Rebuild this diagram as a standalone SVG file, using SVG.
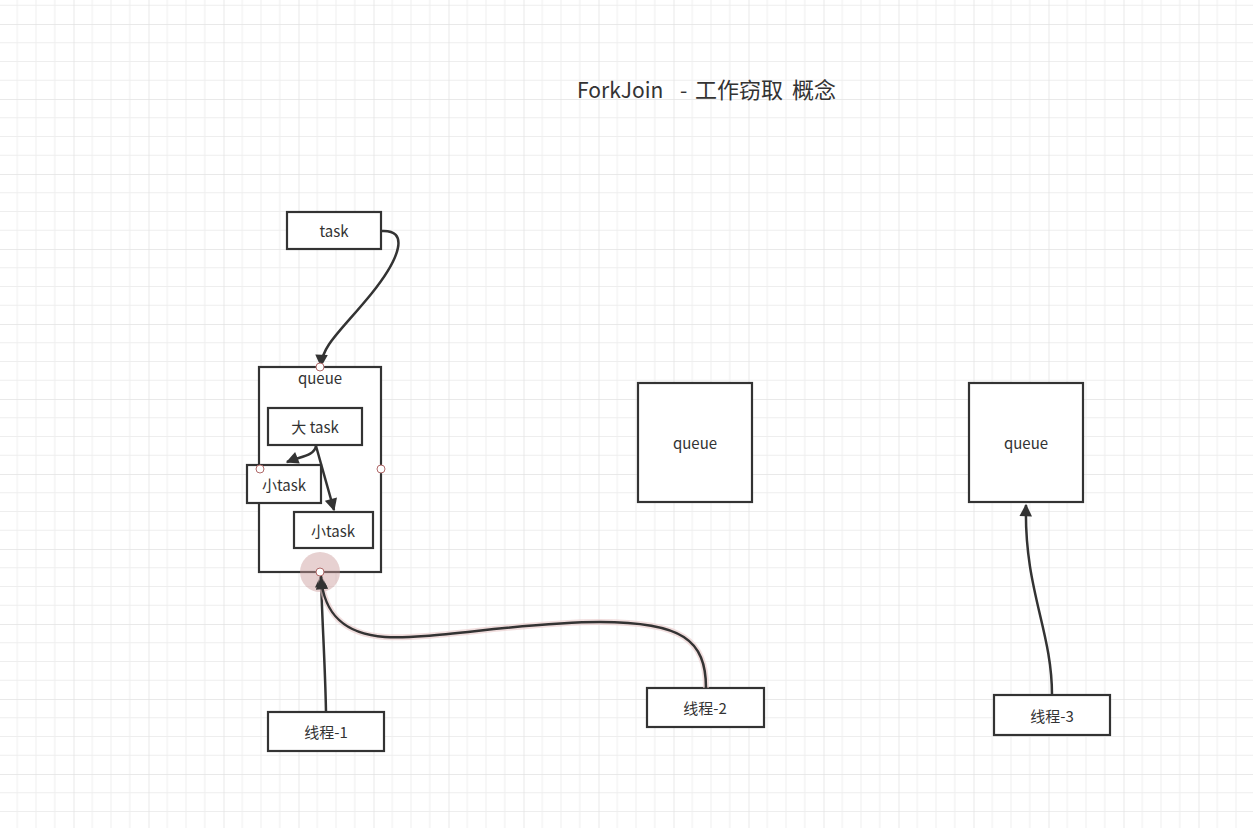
<svg xmlns="http://www.w3.org/2000/svg" width="1253" height="828" viewBox="0 0 1253 828">
  <style>
    .box { fill: #ffffff; stroke: #333333; stroke-width: 2.2; }
    .lbl { font-family: "Noto Sans CJK SC", "Noto Sans", sans-serif; font-size: 15px; fill: #333333; text-anchor: middle; dominant-baseline: central; }
    .title { font-family: "Noto Sans CJK SC", "Noto Sans", sans-serif; font-size: 21px; fill: #333333; }
    .cjk { font-size: 22px; }
    .edge { fill: none; stroke: #333333; stroke-width: 2.5; }
    .port { fill: #ffffff; stroke: #b06a6a; stroke-width: 1; }
  </style>
  <defs>
    <pattern id="grid" patternUnits="userSpaceOnUse" x="-1.5" y="24" width="75" height="75">
      <path d="M18.75 0V75M37.5 0V75M56.25 0V75M0 18.75H75M0 37.5H75M0 56.25H75" stroke="#eeeeee" stroke-width="1" fill="none"/>
      <path d="M0 0V75M0 0H75" stroke="#e2e2e2" stroke-width="1.5" fill="none"/>
    </pattern>
    <marker id="arr" viewBox="0 0 10 10" refX="9" refY="5" markerWidth="5.4" markerHeight="5" orient="auto" markerUnits="strokeWidth">
      <path d="M0 0L10 5L0 10Z" fill="#333333"/>
    </marker>
  </defs>
  <rect width="1253" height="828" fill="#ffffff"/>
  <rect width="1253" height="828" fill="url(#grid)"/>

  <text class="title" y="98"><tspan x="577">ForkJoin</tspan><tspan x="680">-</tspan><tspan class="cjk" x="695">工作窃取</tspan><tspan class="cjk" x="792">概念</tspan></text>

  <g id="task">
    <rect class="box" x="287" y="212" width="94" height="37"/>
    <text class="lbl" x="334" y="230">task</text>
  </g>

  <g id="queue1">
    <rect class="box" x="259" y="367" width="122" height="205"/>
    <text class="lbl" x="320" y="377">queue</text>
  </g>

  <g id="bigtask">
    <rect class="box" x="268" y="408" width="94" height="37"/>
    <text class="lbl" x="315" y="426">大 task</text>
  </g>

  <g id="smalltask1">
    <rect class="box" x="247" y="465" width="74" height="38"/>
    <text class="lbl" x="284" y="484">小task</text>
  </g>

  <g id="smalltask2">
    <rect class="box" x="294" y="512" width="79" height="36"/>
    <text class="lbl" x="333" y="530">小task</text>
  </g>

  <g id="queue2">
    <rect class="box" x="638" y="383" width="114" height="119"/>
    <text class="lbl" x="695" y="442">queue</text>
  </g>

  <g id="queue3">
    <rect class="box" x="969" y="383" width="114" height="119"/>
    <text class="lbl" x="1026" y="442">queue</text>
  </g>

  <g id="thread1">
    <rect class="box" x="268" y="712" width="116" height="39"/>
    <text class="lbl" x="326" y="731">线程-1</text>
  </g>

  <g id="thread2">
    <rect class="box" x="647" y="688" width="117" height="39"/>
    <text class="lbl" x="705" y="707">线程-2</text>
  </g>

  <g id="thread3">
    <rect class="box" x="994" y="695" width="116" height="40"/>
    <text class="lbl" x="1052" y="715">线程-3</text>
  </g>

  <g id="highlight">
    <circle cx="320" cy="572" r="20" fill="#c99a9a" fill-opacity="0.45"/>
  </g>

  <g id="connectors">
    <path class="edge" d="M381 231C410 229 400 258 372 293C342 330 322 345 321 366" marker-end="url(#arr)"/>
    <path class="edge" d="M316 446C314 456 302 456 287 462" marker-end="url(#arr)"/>
    <path class="edge" d="M316 446L334 510" marker-end="url(#arr)"/>
    <path class="edge" d="M326 712C325 660 322 620 321 576" marker-end="url(#arr)"/>
    <path d="M706 688C706 640 682 622 600 622C520 622 430 640 385 637C342 634 324 612 321 578" fill="none" stroke="#e8c8c8" stroke-opacity="0.6" stroke-width="6"/>
    <path class="edge" d="M706 688C706 640 682 622 600 622C520 622 430 640 385 637C342 634 324 612 321 578" marker-end="url(#arr)"/>
    <path class="edge" d="M1052 695C1052 630 1024 590 1026 505" marker-end="url(#arr)"/>
  </g>

  <g id="ports">
    <circle class="port" cx="320" cy="367" r="4"/>
    <circle class="port" cx="260" cy="469" r="4"/>
    <circle class="port" cx="381" cy="469" r="4"/>
    <circle class="port" cx="320" cy="572" r="4"/>
  </g>
</svg>
